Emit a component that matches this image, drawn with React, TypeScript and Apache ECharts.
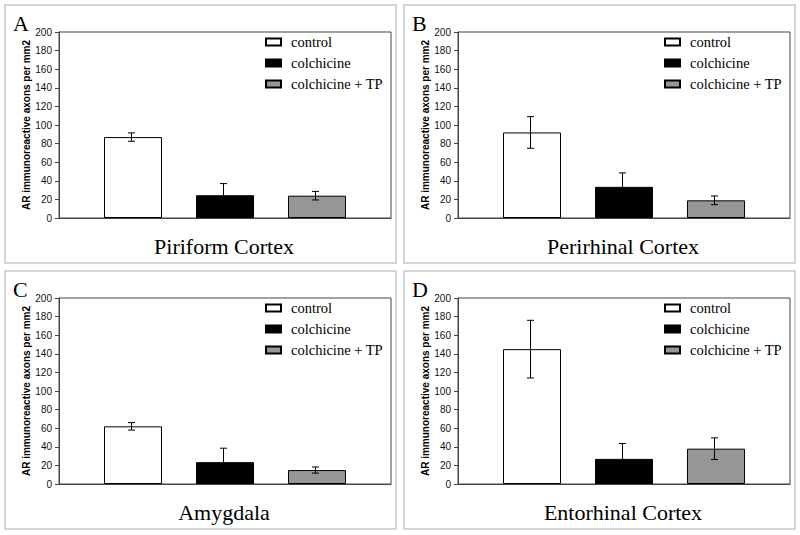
import React, { useEffect, useRef } from 'react';
import * as echarts from 'echarts';

const groups = ['control', 'colchicine', 'colchicine + TP'];
const regions = ['Piriform Cortex', 'Perirhinal Cortex', 'Amygdala', 'Entorhinal Cortex'];
const panelLetters = ['A', 'B', 'C', 'D'];
const controlMeans = [87, 92, 62, 145];
const controlErr = [4.5, 17, 4, 31];
const colchicineMeans = [24.5, 33.5, 23.5, 27];
const colchicineErr = [12.5, 15, 15, 16.5];
const tpMeans = [24, 19, 15, 38];
const tpErr = [4.6, 4.7, 3.3, 11.6];
const yMin = 0;
const yMax = 200;
const yInterval = 20;
const yTitle = 'AR immunoreactive axons per mm2';

const means = [controlMeans, colchicineMeans, tpMeans];
const errs = [controlErr, colchicineErr, tpErr];
const fills = ['#ffffff', '#000000', '#969696'];

const SERIF = '"Liberation Serif", "Times New Roman", serif';
const BAR_W = 58;
const GAP = 0.586;
const PANELS = [
  { x: 5, y: 5 },
  { x: 404, y: 5 },
  { x: 5, y: 271 },
  { x: 404, y: 271 },
];
const PW = 391;
const PH = 258;
const GW = 332;
const GH = 186;

export default function App() {
  const ref = useRef<HTMLDivElement>(null);
  useEffect(() => {
    if (!ref.current) return;
    const chart = echarts.init(ref.current, null, { renderer: 'svg' });
    const grids: any[] = [];
    const xAxes: any[] = [];
    const yAxes: any[] = [];
    const legends: any[] = [];
    const series: any[] = [];
    const graphic: any[] = [];
    PANELS.forEach((p, i) => {
      const gl = p.x + 54;
      const gt = p.y + 27;
      grids.push({
        left: gl, top: gt, width: GW, height: GH,
        show: true, borderColor: '#444', borderWidth: 1, backgroundColor: '#fff',
      });
      xAxes.push({
        gridIndex: i, type: 'category', data: [''],
        axisLine: { show: true, lineStyle: { color: '#444', width: 1 } },
        axisTick: { show: false }, axisLabel: { show: false },
      });
      yAxes.push({
        gridIndex: i, type: 'value', min: yMin, max: yMax, interval: yInterval,
        axisLine: { show: true, lineStyle: { color: '#444', width: 1 } },
        axisTick: { show: true, length: 4, inside: false, lineStyle: { color: '#444' } },
        axisLabel: { fontFamily: 'Liberation Sans', fontSize: 10, color: '#111', margin: 7 },
        splitLine: { show: false },
        name: yTitle, nameLocation: 'middle', nameGap: 28,
        nameTextStyle: { fontFamily: 'Liberation Sans', fontWeight: 'bold', fontSize: 10, color: '#000' },
      });
      legends.push({
        data: groups, orient: 'vertical', left: gl + 206, top: p.y + 29, padding: 0,
        itemWidth: 15, itemHeight: 7, itemGap: 5, selectedMode: false, icon: 'rect',
        textStyle: { fontFamily: SERIF, fontSize: 14.5, color: '#000', lineHeight: 16, padding: [0, 0, 0, 5] },
      });
      groups.forEach((g, k) => {
        series.push({
          type: 'bar', name: g, xAxisIndex: i, yAxisIndex: i,
          data: [means[k][i]], barWidth: BAR_W, barGap: `${GAP * 100}%`,
          itemStyle: { color: fills[k], borderColor: '#000', borderWidth: 1 },
        });
      });
      series.push({
        type: 'custom', name: 'err' + i, xAxisIndex: i, yAxisIndex: i, z: 10,
        data: groups.map((_, k) => [0, means[k][i], errs[k][i], k]),
        renderItem: (params: any, api: any) => {
          const k = api.value(3);
          const m = api.value(1);
          const e = api.value(2);
          const top = api.coord([0, m + e]);
          const bot = api.coord([0, m - e]);
          const x = top[0] + (k - 1) * BAR_W * (1 + GAP) - 1.5;
          const st = { stroke: '#000', lineWidth: 1 };
          return {
            type: 'group',
            children: [
              { type: 'line', shape: { x1: x, y1: top[1], x2: x, y2: bot[1] }, style: st },
              { type: 'line', shape: { x1: x - 3.5, y1: top[1], x2: x + 3.5, y2: top[1] }, style: st },
              { type: 'line', shape: { x1: x - 3.5, y1: bot[1], x2: x + 3.5, y2: bot[1] }, style: st },
            ],
          };
        },
      });
      graphic.push({
        type: 'rect', shape: { x: p.x, y: p.y, width: PW, height: PH },
        style: { fill: 'none', stroke: '#c8c8c8', lineWidth: 1.5 }, z: -1,
      });
      graphic.push({
        type: 'text', x: p.x + 8, y: p.y + 18,
        style: { text: panelLetters[i], fontFamily: SERIF, fontSize: 22, fill: '#000', verticalAlign: 'middle' },
      });
      graphic.push({
        type: 'text', x: gl + GW / 2 - 1, y: p.y + 241,
        style: { text: regions[i], fontFamily: SERIF, fontSize: 22, fill: '#000', align: 'center', verticalAlign: 'middle' },
      });
    });
    chart.setOption({
      animation: false,
      backgroundColor: '#fff',
      grid: grids, xAxis: xAxes, yAxis: yAxes, legend: legends, series, graphic,
    });
    return () => chart.dispose();
  }, []);
  return <div ref={ref} style={{ position: 'absolute', left: 0, top: 0, width: 800, height: 535 }} />;
}
